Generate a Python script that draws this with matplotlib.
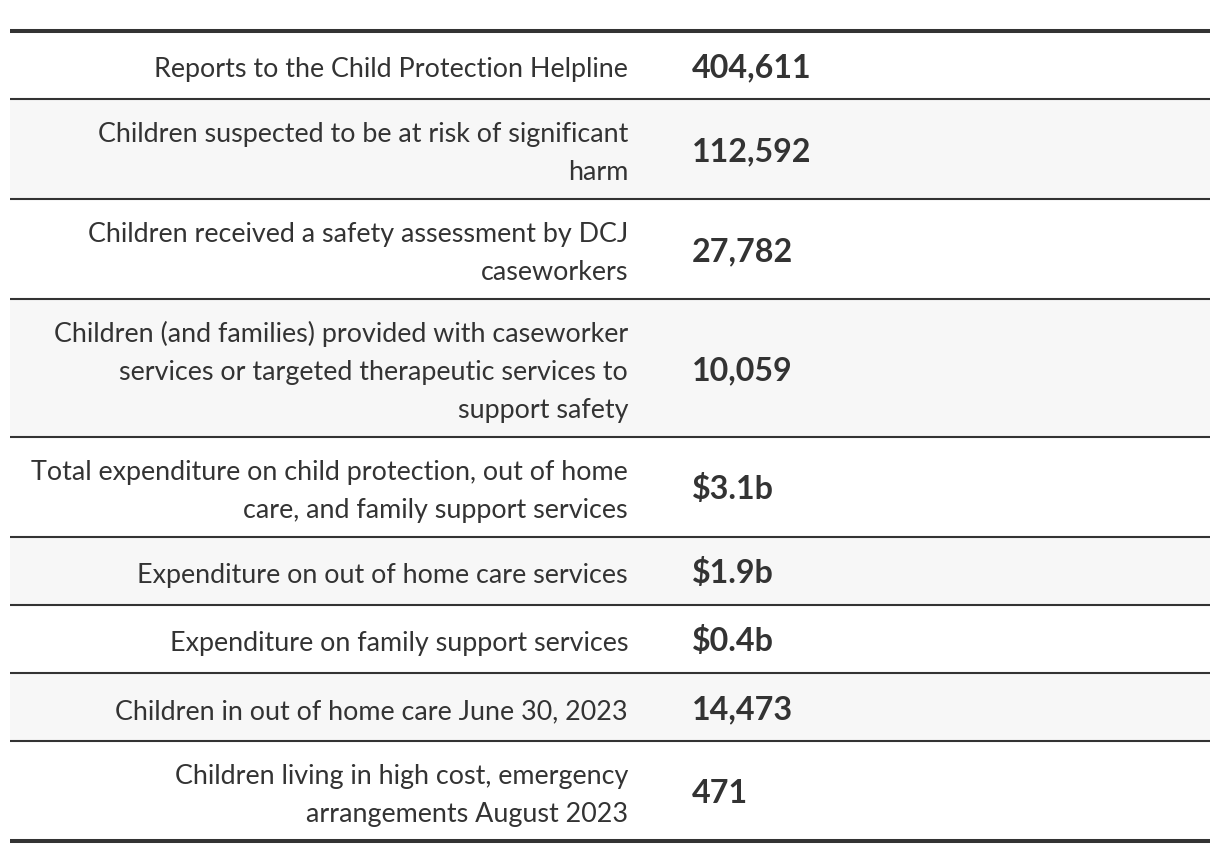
import matplotlib.pyplot as plt
from matplotlib.patches import Rectangle

labels = [
    "Reports to the Child Protection Helpline",
    "Children suspected to be at risk of significant\nharm",
    "Children received a safety assessment by DCJ\ncaseworkers",
    "Children (and families) provided with caseworker\nservices or targeted therapeutic services to\nsupport safety",
    "Total expenditure on child protection, out of home\ncare, and family support services",
    "Expenditure on out of home care services",
    "Expenditure on family support services",
    "Children in out of home care June 30, 2023",
    "Children living in high cost, emergency\narrangements August 2023",
]
values = ["404,611", "112,592", "27,782", "10,059", "$3.1b", "$1.9b", "$0.4b", "14,473", "471"]

W, H = 1220, 854
fig = plt.figure(figsize=(W / 100, H / 100), dpi=100)
ax = fig.add_axes([0, 0, 1, 1])
ax.set_xlim(0, W)
ax.set_ylim(H, 0)
ax.axis('off')

ink = '#333333'
left, right = 10, 1210
label_x, value_x = 628, 692
line_h = 38
font = ['Lato', 'DejaVu Sans']

y = 32
for i, (lab, val) in enumerate(zip(labels, values)):
    lines = lab.split('\n')
    n = len(lines)
    h = max(line_h * n, 44) + 24
    if i % 2 == 1:
        ax.add_patch(Rectangle((left, y), right - left, h, color='#f7f7f7', lw=0, zorder=0))
    yc = y + h / 2
    for k, ln in enumerate(lines):
        yb = yc + 11 + (k - (n - 1) / 2) * line_h
        ax.text(label_x, yb, ln, ha='right', va='baseline', fontsize=19.4,
                color=ink, family=font)
    ax.text(value_x, yc + 11.5, val, ha='left', va='baseline', fontsize=23.2,
            color=ink, family=font, fontweight='bold')
    y += h
    lw = 2.9 if i == len(labels) - 1 else 1.5
    ax.plot([left, right], [y, y], color=ink, lw=lw, solid_capstyle='butt')

ax.plot([left, right], [32, 32], color=ink, lw=2.9, solid_capstyle='butt')

fig.savefig('out.png', dpi=100)
